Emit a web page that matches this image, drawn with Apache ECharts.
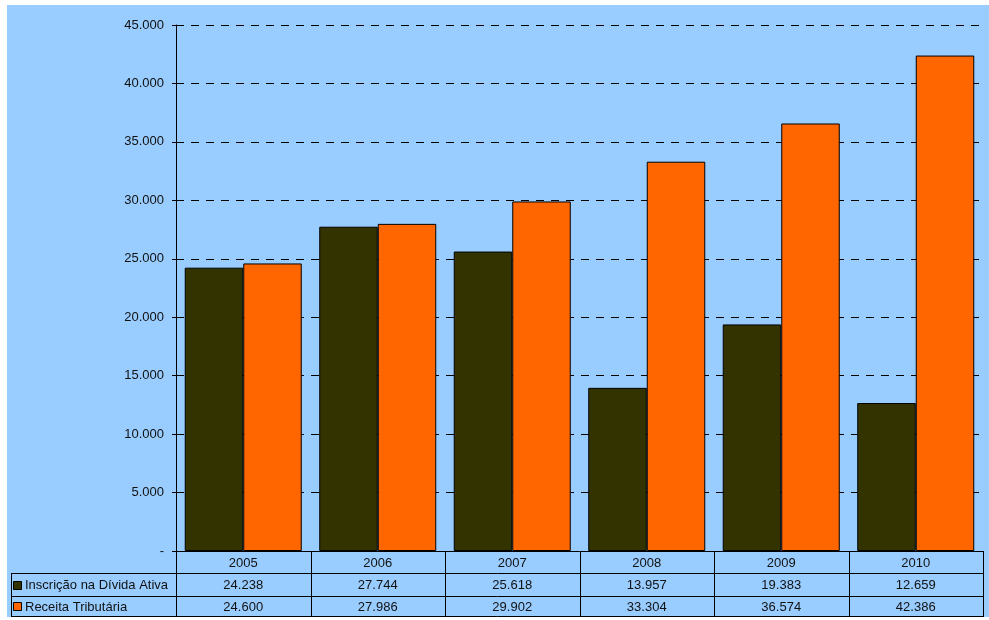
<!DOCTYPE html>
<html>
<head>
<meta charset="utf-8">
<script src="https://cdn.jsdelivr.net/npm/echarts@6/dist/echarts.min.js"></script>
<style>
  html, body { margin: 0; padding: 0; background: #fff; }
  #chart { position: absolute; left: 7px; top: 5px; width: 982px; height: 612px; }
</style>
</head>
<body>
<div id="chart"></div>
<script>
const years = ["2005", "2006", "2007", "2008", "2009", "2010"];
const inscricao = [24238, 27744, 25618, 13957, 19383, 12659];
const receita = [24600, 27986, 29902, 33304, 36574, 42386];
const seriesNames = ["Inscrição na Dívida Ativa", "Receita Tributária"];
const seriesColors = ["#333300", "#FF6600"];

const W = 982, H = 612;
const gridLeft = 169, gridRight = 6, gridTop = 20, gridBottom = 66;
const FONT = "Liberation Sans, Arial, sans-serif";

function fmt(v) {
  return String(v).replace(/\B(?=(\d{3})+(?!\d))/g, ".");
}

// data table under the plot, built from the arrays
function buildTable() {
  const x0 = gridLeft, x1 = W - gridRight;
  const axisY = H - gridBottom;
  const rowY = [axisY, axisY + 22, axisY + 45, H - 1];
  const labelLeft = 4;
  const band = (x1 - x0) / years.length;
  const els = [];
  const line = (xa, ya, xb, yb) => els.push({
    type: "line", silent: true,
    shape: { x1: xa, y1: ya, x2: xb, y2: yb },
    style: { stroke: "#000", lineWidth: 1 }
  });
  const text = (x, y, t, align) => els.push({
    type: "text", silent: true, x: x, y: y,
    style: { text: t, font: "13px " + FONT, fill: "#111", align: align || "center", verticalAlign: "middle" }
  });

  line(labelLeft + 0.5, rowY[1], labelLeft + 0.5, rowY[3]);
  for (let i = 0; i <= years.length; i++) {
    const x = Math.round(x0 + i * band) + 0.5;
    line(x, rowY[0], x, rowY[3]);
  }
  line(labelLeft, rowY[1] + 0.5, x1 + 1, rowY[1] + 0.5);
  line(labelLeft, rowY[2] + 0.5, x1 + 1, rowY[2] + 0.5);
  line(labelLeft, rowY[3] + 0.5, x1 + 1, rowY[3] + 0.5);

  years.forEach((y, i) => {
    const cx = x0 + (i + 0.5) * band;
    text(cx, (rowY[0] + rowY[1]) / 2 + 1, y);
    text(cx, (rowY[1] + rowY[2]) / 2 + 1, fmt(inscricao[i]));
    text(cx, (rowY[2] + rowY[3]) / 2 + 1, fmt(receita[i]));
  });

  [1, 2].forEach((r, k) => {
    const cy = (rowY[r] + rowY[r + 1]) / 2 + 1;
    els.push({
      type: "rect", silent: true,
      shape: { x: 6.5, y: Math.round(cy) - 4.5, width: 8, height: 8 },
      style: { fill: seriesColors[k], stroke: "#000", lineWidth: 1 }
    });
    text(18, cy, seriesNames[k], "left");
  });
  return els;
}

const chart = echarts.init(document.getElementById("chart"), null, { renderer: "canvas" });

chart.setOption({
  backgroundColor: "#99CCFF",
  animation: false,
  grid: { left: gridLeft, right: gridRight, top: gridTop, bottom: gridBottom, containLabel: false },
  xAxis: {
    type: "category",
    data: years,
    axisLine: { show: true, lineStyle: { color: "#000", width: 1 } },
    axisTick: { show: false },
    axisLabel: { show: false },
    splitLine: { show: false }
  },
  yAxis: {
    type: "value",
    min: 0,
    max: 45000,
    interval: 5000,
    axisLine: { show: true, lineStyle: { color: "#000", width: 1 } },
    axisTick: { show: true, length: 4, lineStyle: { color: "#000" } },
    axisLabel: {
      margin: 12,
      color: "#111",
      fontSize: 13,
      fontFamily: FONT,
      formatter: (v) => (v === 0 ? "-" : fmt(v))
    },
    splitLine: { show: true, lineStyle: { color: "#000", type: [8, 7], width: 1 } }
  },
  series: [
    {
      name: seriesNames[0],
      type: "bar",
      data: inscricao,
      barGap: "0%",
      barCategoryGap: "13%",
      itemStyle: { color: seriesColors[0], borderColor: "#000", borderWidth: 1 }
    },
    {
      name: seriesNames[1],
      type: "bar",
      data: receita,
      barGap: "0%",
      barCategoryGap: "13%",
      itemStyle: { color: seriesColors[1], borderColor: "#000", borderWidth: 1 }
    }
  ],
  graphic: buildTable()
});
</script>
</body>
</html>
